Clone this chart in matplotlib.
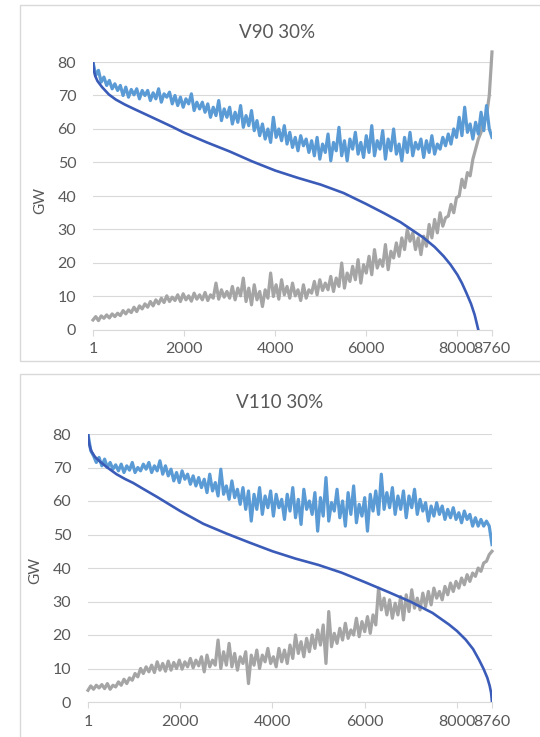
import numpy as np
import matplotlib
matplotlib.use('Agg')
import matplotlib.pyplot as plt
from matplotlib.patches import Rectangle

plt.rcParams['font.family'] = ['Lato', 'DejaVu Sans']

# x tick labels (hours of the year)
xticks = [1, 2000, 4000, 6000, 8000, 8760]

# ---- V90 30% ----
# noisy series, sampled every ~60 h from hour 1 to 8760
v90_blue = [80, 76, 77.5, 74, 75.5, 73, 74.5, 72, 73.5, 71.5,
            73, 70, 72.5, 69.5, 71.8, 70.2, 72, 69, 71.5, 70,
            71.5, 68.5, 70.8, 69, 72, 68, 70.5, 69.5, 71, 67.5,
            70, 67, 69.5, 66.5, 69, 67.5, 70.5, 65.5, 68, 66,
            68, 65, 67.5, 63.5, 66.5, 64, 68.5, 62.5, 66, 63.5,
            66.5, 61.5, 65, 62, 67, 60.5, 64, 61, 65.5, 59.5,
            62.5, 58, 61.5, 57, 60, 56, 63.5, 57.5, 60, 56.5,
            61, 55.5, 59, 54.5, 57.5, 53.5, 58, 55, 57, 53,
            56.5, 52, 57.5, 51, 55.5, 53, 58.5, 50.5, 56, 53.5,
            60.5, 52, 56.5, 50.5, 57, 54, 59, 52.5, 56, 51.5,
            58, 53, 61, 52, 56.5, 54, 59.5, 51, 57, 53.5,
            60, 52.5, 55.5, 50.5, 57.5, 53, 59, 52, 56, 54,
            57, 51.5, 56.5, 53, 58, 52.5, 55.5, 54, 57.5, 55,
            58.5, 55.5, 60, 57.5, 63.5, 58, 66.5, 59, 61.5, 57,
            62, 58.5, 65, 59.5, 67, 60, 57.5]
v90_gray = [3, 4, 2.8, 4.2, 3.5, 4.5, 3.6, 4.8, 4, 5,
            4.3, 5.8, 4.8, 6, 5.2, 6.8, 5.5, 7.2, 6.3, 7.8,
            6.8, 8.5, 7.2, 9, 7.8, 9.5, 8.2, 10.2, 8.5, 9.8,
            8.8, 10.5, 8.5, 10.8, 9, 10.2, 8.6, 11, 9.2, 10.5,
            9, 11.2, 8.8, 10.5, 9.5, 14, 9.2, 12, 9.8, 11.5,
            9.5, 13, 9, 12.5, 10.2, 15.5, 8.5, 12.5, 7.5, 13.5,
            9, 11.5, 7, 12, 9.5, 17, 10, 13.5, 9.2, 15,
            10.5, 13, 9.5, 14, 10.2, 12, 8.8, 13.5, 9.5, 12,
            11, 14.5, 10.5, 15, 11.8, 14, 12, 16, 11.5, 15.5,
            13, 20, 12.5, 17, 14.5, 19, 15, 21, 14, 19.5,
            17, 22, 16.5, 24, 18.5, 21, 19, 25.5, 18, 23.5,
            21.5, 26, 22, 27.5, 24, 30, 26.5, 29, 24, 27.5,
            22.5, 28, 25, 31.5, 27.5, 33, 29, 35, 31, 33.5,
            34, 37.5, 35, 39.5, 40, 45, 42.5, 47, 46, 51,
            54, 57, 59, 63, 64, 70, 83]
# smooth duration curve
v90_dur_hours = [1, 20, 50, 100, 200, 350, 500, 700, 900, 1200, 1500, 1750,
                 2000, 2500, 3000, 3500, 4000, 4500, 5000, 5500, 6000, 6400,
                 6750, 7000, 7250, 7500, 7700, 7850, 8000, 8100, 8200, 8300,
                 8380, 8460]
v90_dur = [80, 77.5, 75.8, 74.3, 72.5, 70.3, 68.8, 67.3, 66.0, 64.1, 62.2, 60.6,
           58.9, 56.0, 53.3, 50.3, 47.6, 45.4, 43.4, 40.9, 37.6, 34.8,
           32.2, 29.9, 27.6, 24.8, 22.0, 19.5, 16.5, 14.0, 11.0, 7.8,
           4.5, 0]

# ---- V110 30% ----
v110_blue = [80, 75, 73.5, 71.5, 73, 70.5, 72.5, 70, 71.5, 69.5,
             70.8, 69, 71, 68.5, 70.5, 69.2, 71.5, 68.5, 70, 69,
             71, 69.5, 71.5, 68.5, 70.5, 69, 72, 68, 70.5, 67.5,
             69.5, 66, 68.5, 65.5, 69, 66.5, 68, 65, 67.5, 64.5,
             67, 64, 66.5, 62.5, 68, 63, 65.5, 61.5, 69.5, 62,
             64.5, 60.5, 66, 61, 63.5, 59, 64, 57.5, 63, 54,
             62, 57.5, 64, 56, 61.5, 58, 63, 55.5, 62, 58,
             60.5, 54.5, 62, 57, 64, 55, 60.5, 53, 63.5, 57.5,
             60, 56, 62.5, 51, 61, 55.5, 67, 54, 59.5, 57,
             63.5, 55, 60, 52.5, 62.5, 56, 64.5, 53.5, 59, 55.5,
             61, 51, 62, 57, 63, 56, 68, 57.5, 62.5, 58,
             64, 56, 61.5, 57.5, 63, 55, 61.5, 58, 63.5, 56,
             60.5, 57, 59.5, 54, 58.5, 55.5, 59.5, 56, 58.5, 54.5,
             57.5, 55, 58, 54.5, 56.5, 53.5, 57, 54.5, 56, 52.5,
             55, 52.5, 54.5, 52.5, 54, 52.5, 47]
v110_gray = [3.5, 4.8, 3.8, 5, 4.2, 5.2, 4, 5.5, 3.8, 5,
             4.5, 6, 5, 6.8, 5.5, 7.2, 6.5, 8.5, 7.5, 10,
             8.5, 10.5, 9, 11, 8.8, 12, 9.5, 11.5, 9.2, 12.2,
             9.5, 11.8, 10, 12.5, 9.8, 12, 10.5, 13, 10.2, 12.5,
             10.8, 13.5, 9, 14, 10.5, 12.5, 11, 18.5, 10, 15,
             11, 17.5, 10.5, 14.5, 9.5, 13.5, 11.5, 15, 5.5, 14,
             11, 15.5, 10, 14, 12, 16, 11.5, 13.5, 10.5, 16,
             12, 15.5, 11.5, 17, 13, 20, 14.5, 18, 13.5, 19,
             15, 20, 16, 21.5, 17, 23, 11.5, 27, 16.5, 20.5,
             17.5, 22, 18.5, 23.5, 19, 21.5, 20, 25, 19.5, 24,
             21, 25.5, 20.5, 26, 23, 34, 27.5, 31, 26, 30.5,
             25, 29.5, 26, 31.5, 24.5, 32, 27, 33.5, 28, 31,
             27.5, 32.5, 28.5, 33, 29, 34, 31, 33, 30.5, 34.5,
             32, 35.5, 33, 36, 34, 37, 35, 38, 36, 38.5,
             37.5, 40, 39, 41.5, 42, 44, 45]
v110_dur_hours = [1, 20, 50, 80, 150, 258, 400, 619, 800, 979, 1200, 1500,
                  1750, 2000, 2500, 3000, 3500, 4000, 4500, 5000, 5500, 6000,
                  6500, 7000, 7469, 7830, 8000, 8190, 8350, 8479, 8580, 8659,
                  8710, 8740, 8760]
v110_dur = [80, 77.5, 75.8, 74.7, 73.2, 71.8, 70.2, 68.0, 66.6, 65.4, 63.6, 61.2,
            59.1, 57.0, 53.2, 50.3, 47.6, 45.0, 42.8, 40.9, 38.6, 35.8,
            32.9, 29.9, 26.6, 23.1, 21.2, 18.6, 15.8, 12.6, 9.8, 7.2,
            4.8, 2.8, 0]

W, H = 540, 737
LIGHT_BLUE = '#5b9bd5'
GRAY = '#a5a5a5'
DARK_BLUE = '#3a5bb8'
TEXT = '#595959'
GRID = '#d9d9d9'

fig = plt.figure(figsize=(W / 100, H / 100), dpi=100)

# chart frames (two Excel charts stacked)
fig.add_artist(Rectangle((20 / W, 1 - 361 / H), 530 / W, 356 / H, transform=fig.transFigure,
                         fill=False, edgecolor=GRID, lw=1))
fig.add_artist(Rectangle((20 / W, 1 - 740 / H), 530 / W, 366 / H, transform=fig.transFigure,
                         fill=False, edgecolor=GRID, lw=1))


def panel(rect, title, title_xy, gw_xy, blue, gray, dur_h, dur):
    ax = fig.add_axes(rect)
    xb = np.linspace(1, 8760, len(blue))
    xg = np.linspace(1, 8760, len(gray))
    ax.plot(xg, gray, color=GRAY, lw=2.3, clip_on=False, zorder=3)
    ax.plot(xb, blue, color=LIGHT_BLUE, lw=2.3, zorder=4)
    ax.plot(dur_h, dur, color=DARK_BLUE, lw=1.9, zorder=5)
    ax.set_xlim(1, 8760)
    ax.set_ylim(0, 80)
    ax.set_yticks(range(0, 81, 10))
    ax.set_xticks(xticks)
    ax.set_xticklabels([str(t) for t in xticks])
    ax.grid(axis='y', color=GRID, lw=0.8)
    ax.set_axisbelow(True)
    for s in ['top', 'right', 'left']:
        ax.spines[s].set_visible(False)
    ax.spines['bottom'].set_color(GRID)
    ax.tick_params(axis='y', length=0, pad=12, labelsize=11.5, labelcolor=TEXT)
    ax.tick_params(axis='x', length=4, color=GRID, pad=5, labelsize=11.5, labelcolor=TEXT)
    fig.text(title_xy[0] / W, 1 - title_xy[1] / H, title, ha='center', va='center',
             fontsize=13.5, color=TEXT)
    fig.text(gw_xy[0] / W, 1 - gw_xy[1] / H, 'GW', ha='center', va='center',
             rotation=90, fontsize=11, color=TEXT)
    return ax


panel([93 / W, 1 - 330 / H, 399 / W, 268 / H], 'V90 30%', (277, 32), (40, 200),
      v90_blue, v90_gray, v90_dur_hours, v90_dur)
panel([88 / W, 1 - 702 / H, 404 / W, 268 / H], 'V110 30%', (280, 403), (35, 570),
      v110_blue, v110_gray, v110_dur_hours, v110_dur)

fig.savefig('out.png', dpi=100)
